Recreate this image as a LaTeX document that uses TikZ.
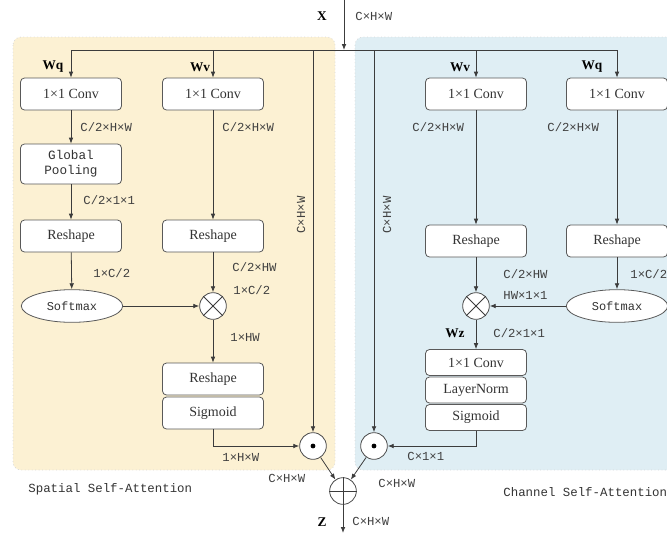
\documentclass[tikz,border=0pt]{standalone}
\usepackage{fontspec}
\setmainfont{Liberation Serif}
\setmonofont{Liberation Mono}
\usepackage{xcolor}
\usetikzlibrary{arrows.meta,shapes.geometric}

\definecolor{spatialbg}{RGB}{252,241,211}
\definecolor{channelbg}{RGB}{223,238,244}
\definecolor{linegray}{RGB}{60,60,60}

\begin{document}
\begin{tikzpicture}[x=0.75pt,y=0.75pt,yscale=-1,xscale=1,
	line width=0.6pt,
	arr/.style={draw=linegray,-{Latex[length=4.5pt,width=3.5pt]}},
	opbox/.style={draw=black!65,fill=white,rounded corners=3pt,minimum width=75.75pt,minimum height=24pt,inner sep=0pt,text=black!80,font=\fontsize{10.5}{12}\selectfont},
	thinbox/.style={opbox,minimum height=19.5pt},
	smx/.style={ellipse,draw=black!65,fill=white,minimum width=76pt,minimum height=24.5pt,inner sep=0pt,text=black!80,font=\ttfamily\fontsize{9}{10}\selectfont},
	opcirc/.style={circle,draw=black!70,fill=white,minimum size=20pt,inner sep=0pt},
	dimlbl/.style={anchor=west,inner sep=0pt,text=black!75,font=\ttfamily\fontsize{9.2}{10}\selectfont},
	wlbl/.style={inner sep=0pt,font=\bfseries\fontsize{10}{11}\selectfont},
	title/.style={anchor=west,inner sep=0pt,text=black!80,font=\ttfamily\fontsize{9.3}{10}\selectfont}]

	\useasboundingbox (0,0) rectangle (667,533);

	%Shape: Rectangle [id:spatial panel]
	\draw [draw=black!15,dotted,fill=spatialbg,rounded corners=6pt] (13,37) rectangle (335,470);
	%Shape: Rectangle [id:channel panel]
	\draw [draw=black!15,dotted,fill=channelbg,rounded corners=6pt] (355,37) rectangle (690,470);

	% Input and bus
	\coordinate (xin) at (344,0);
	\coordinate (xbus) at (344,50);
	\coordinate (busL) at (71,50);
	\coordinate (busR) at (617,50);
	\coordinate (busLv) at (213,50);
	\coordinate (busRv) at (476,50);
	\coordinate (skipL) at (313,50);
	\coordinate (skipR) at (374,50);
	\coordinate (zout) at (343,533);
	\draw [arr] (xin) -- (xbus);
	\draw [draw=linegray] (busL) -- (busR);

	% Spatial branch
	\node [opbox] (convq) at (71,94) {1×1 Conv};
	\node [opbox,minimum height=30pt,align=center,font=\ttfamily\fontsize{9.5}{11.5}\selectfont] (pool) at (71,164) {Global\\Pooling};
	\node [opbox] (reshq) at (71,236) {Reshape};
	\node [smx] (smL) at (72,306) {Softmax};
	\node [opbox] (convv) at (213,94) {1×1 Conv};
	\node [opbox] (reshv) at (213,236) {Reshape};
	\node [opcirc] (mulL) at (213,306) {};
	\draw [draw=linegray] (mulL.north west) -- (mulL.south east) (mulL.north east) -- (mulL.south west);
	\node [opbox] (reshs) at (213,379) {Reshape};
	\node [opbox] (sigL) at (213,413) {Sigmoid};
	\node [opcirc] (dotL) at (313,446) {};
	\fill [black] (dotL) circle (2.4);

	% Channel branch
	\node [opbox] (convvR) at (476,94) {1×1 Conv};
	\node [opbox] (reshvR) at (476,241) {Reshape};
	\node [opcirc] (mulR) at (476,306) {};
	\draw [draw=linegray] (mulR.north west) -- (mulR.south east) (mulR.north east) -- (mulR.south west);
	\node [opbox] (convqR) at (617,94) {1×1 Conv};
	\node [opbox] (reshqR) at (617,241) {Reshape};
	\node [smx] (smR) at (617,306) {Softmax};
	\node [thinbox] (convz) at (476,362.5) {1×1 Conv};
	\node [thinbox] (lnorm) at (476,390) {LayerNorm};
	\node [thinbox] (sigR) at (476,417.5) {Sigmoid};
	\node [opcirc] (dotR) at (374,446) {};
	\fill [black] (dotR) circle (2.4);

	% Fusion
	\node [opcirc] (plus) at (343,491) {};
	\draw [draw=linegray] (plus.north) -- (plus.south) (plus.west) -- (plus.east);

	% Connectors
	\draw [arr] (busL) -- (convq);
	\draw [arr] (convq) -- (pool);
	\draw [arr] (pool) -- (reshq);
	\draw [arr] (reshq) -- (smL);
	\draw [arr] (smL) -- (mulL);
	\draw [arr] (busLv) -- (convv);
	\draw [arr] (convv) -- (reshv);
	\draw [arr] (reshv) -- (mulL);
	\draw [arr] (mulL) -- (reshs);
	\draw [arr] (sigL) |- (dotL);
	\draw [arr] (skipL) -- (dotL);
	\draw [arr] (busRv) -- (convvR);
	\draw [arr] (convvR) -- (reshvR);
	\draw [arr] (reshvR) -- (mulR);
	\draw [arr] (busR) -- (convqR);
	\draw [arr] (convqR) -- (reshqR);
	\draw [arr] (reshqR) -- (smR);
	\draw [arr] (smR) -- (mulR);
	\draw [arr] (mulR) -- (convz);
	\draw [arr] (sigR) |- (dotR);
	\draw [arr] (skipR) -- (dotR);
	\draw [arr] (dotL) -- (plus);
	\draw [arr] (dotR) -- (plus);
	\draw [arr] (plus) -- (zout);

	% Text Node
	\node [wlbl] (xlbl) at (322,16) {X};
	\node [wlbl] (zlbl) at (322,522) {Z};
	\node [wlbl] (wqL) at (53,67) {Wq};
	\node [wlbl] (wvL) at (200,67) {Wv};
	\node [wlbl] (wvR) at (460,67) {Wv};
	\node [wlbl] (wqR) at (592,67) {Wq};
	\node [wlbl] (wz) at (455,333) {Wz};
	% Text Node
	\node [dimlbl] (d1) at (355,16) {C×H×W};
	\node [dimlbl] (d2) at (80,127) {C/2×H×W};
	\node [dimlbl] (d3) at (222,127) {C/2×H×W};
	\node [dimlbl] (d4) at (83,200) {C/2×1×1};
	\node [dimlbl] (d5) at (93,273) {1×C/2};
	\node [dimlbl] (d6) at (232,267) {C/2×HW};
	\node [dimlbl] (d7) at (233,290) {1×C/2};
	\node [dimlbl] (d8) at (230,337) {1×HW};
	\node [dimlbl] (d9) at (222,457) {1×H×W};
	\node [dimlbl] (d10) at (268,478) {C×H×W};
	\node [dimlbl] (d11) at (412,127) {C/2×H×W};
	\node [dimlbl] (d12) at (547,127) {C/2×H×W};
	\node [dimlbl] (d13) at (503,274) {C/2×HW};
	\node [dimlbl] (d14) at (503,295) {HW×1×1};
	\node [dimlbl] (d15) at (630,274) {1×C/2};
	\node [dimlbl] (d16) at (493,333) {C/2×1×1};
	\node [dimlbl] (d17) at (407,456) {C×1×1};
	\node [dimlbl] (d18) at (378,483) {C×H×W};
	\node [dimlbl] (d19) at (352,521) {C×H×W};
	\node [dimlbl,anchor=center,rotate=90] (d20) at (301,215) {C×H×W};
	\node [dimlbl,anchor=center,rotate=90] (d21) at (387,215) {C×H×W};
	% Text Node
	\node [title] (tS) at (28,489) {Spatial Self-Attention};
	\node [title] (tC) at (503,492) {Channel Self-Attention};

\end{tikzpicture}
\end{document}
